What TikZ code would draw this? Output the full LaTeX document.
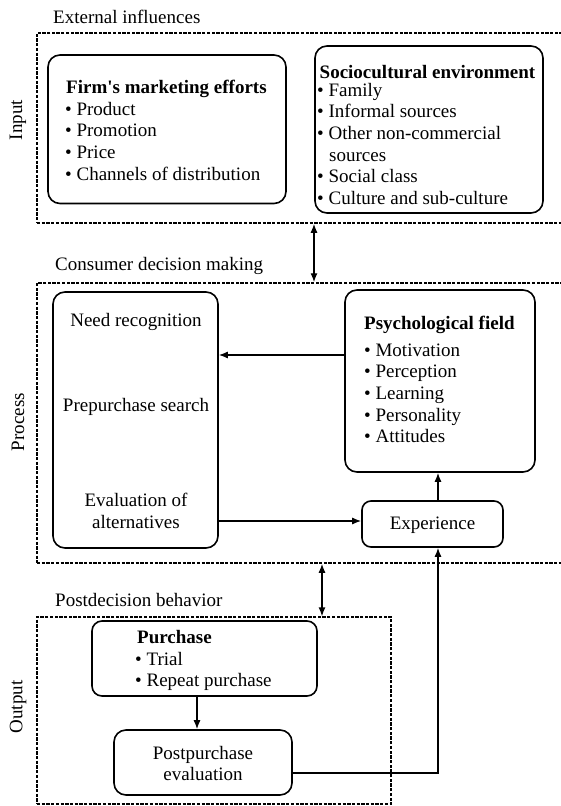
\documentclass[tikz,border=0pt]{standalone}
\usepackage{fontspec}
\setmainfont{Liberation Serif}[Ligatures=TeXOff]
\usetikzlibrary{arrows.meta}
\begin{document}
\begin{tikzpicture}[x=1pt,y=-1pt,
  txt/.style={font=\fontsize{19}{21.7}\selectfont, inner sep=0pt},
  btxt/.style={font=\fontsize{19}{21.7}\selectfont\bfseries, inner sep=0pt},
  box/.style={draw, line width=1.6pt, rounded corners=12pt, inner sep=0pt},
  grp/.style={draw, line width=1.5pt, dash pattern=on 3.3pt off 1.4pt, inner sep=0pt},
  arr/.style={line width=1.3pt, -{Latex[length=9pt,width=7pt]}},
  darr/.style={line width=1.3pt, {Latex[length=9pt,width=7pt]}-{Latex[length=9pt,width=7pt]}}]
\useasboundingbox (0,0) rectangle (560,806);

% ---------- group frames ----------
\node[grp, minimum width=525pt, minimum height=190pt] (inputgrp) at (299.5,128) {};
\node[grp, minimum width=525pt, minimum height=280pt] (processgrp) at (299.5,423) {};
\node[grp, line width=1.3pt, minimum width=354pt, minimum height=187pt] (outputgrp) at (214,710.5) {};

% ---------- group labels ----------
\node[txt, anchor=base west] (extlab) at (53,23) {External influences};
\node[txt, anchor=base west] (cdmlab) at (55,270) {Consumer decision making};
\node[txt, anchor=base west] (pdblab) at (55,606) {Postdecision behavior};
\node[txt, rotate=90] (inlab) at (18,120) {Input};
\node[txt, rotate=90] (proclab) at (18,422) {Process};
\node[txt, rotate=90] (outlab) at (18,707) {Output};

% ---------- input boxes ----------
\node[box, minimum width=238pt, minimum height=148.5pt] (firm) at (167,129.25) {};
\node[btxt, anchor=base west] (firmt) at (66,93.5) {Firm's marketing efforts};
\foreach \t [count=\i] in {Product, Promotion, Price, Channels of distribution}
  \node[txt, anchor=base west] (firmi\i) at (65,{93.5+\i*21.7}) {• \t};

\node[box, minimum width=228pt, minimum height=167pt] (socio) at (429,129.5) {};
\node[btxt, anchor=base west] (sociot) at (319.5,78) {Sociocultural environment};
\node[txt, anchor=base west] (socioi1) at (317,96) {• Family};
\node[txt, anchor=base west] (socioi2) at (317,117.7) {• Informal sources};
\node[txt, anchor=base west] (socioi3) at (317,139.4) {• Other non-commercial};
\node[txt, anchor=base west] (socioi3b) at (329,161.1) {sources};
\node[txt, anchor=base west] (socioi4) at (317,182.8) {• Social class};
\node[txt, anchor=base west] (socioi5) at (317,204.5) {• Culture and sub-culture};

% ---------- process boxes ----------
\node[box, minimum width=165pt, minimum height=256pt] (stage) at (135.5,420) {};
\node[txt, anchor=base] (need) at (136,326) {Need recognition};
\node[txt, anchor=base] (search) at (136,411) {Prepurchase search};
\node[txt, anchor=base] (eval1) at (136,506) {Evaluation of};
\node[txt, anchor=base] (eval2) at (136,528) {alternatives};

\node[box, minimum width=190pt, minimum height=182pt] (psych) at (440,381) {};
\node[btxt, anchor=base west] (psycht) at (364,329) {Psychological field};
\foreach \t [count=\i] in {Motivation, Perception, Learning, Personality, Attitudes}
  \node[txt, anchor=base west] (psychi\i) at (364,{334.3+\i*21.7}) {• \t};

\node[box, rounded corners=9pt, minimum width=141pt, minimum height=46pt] (exper) at (432.5,524) {};
\node[txt, anchor=base] (expert) at (432.5,529) {Experience};

% ---------- output boxes ----------
\node[box, rounded corners=10pt, minimum width=225pt, minimum height=75pt] (purchase) at (204.5,658.5) {};
\node[btxt, anchor=base west] (purcht) at (137,643) {Purchase};
\node[txt, anchor=base west] (purchi1) at (135,665) {• Trial};
\node[txt, anchor=base west] (purchi2) at (135,686.5) {• Repeat purchase};

\node[box, minimum width=178pt, minimum height=65pt] (postp) at (203,762.5) {};
\node[txt, anchor=base] (postp1) at (203,759) {Postpurchase};
\node[txt, anchor=base] (postp2) at (203,780) {evaluation};

% ---------- connectors ----------
\coordinate (c1) at (314,0);
\coordinate (c2) at (0,355);
\coordinate (c3) at (0,521);
\coordinate (c4) at (438,0);
\coordinate (c5) at (322,0);
\coordinate (c6) at (197,0);
\coordinate (c7) at (0,773);

\draw[darr] (inputgrp.south -| c1) -- (processgrp.north -| c1);
\draw[arr] (psych.west |- c2) -- (stage.east |- c2);
\draw[arr] (stage.east |- c3) -- (exper.west |- c3);
\draw[arr] (exper.north -| c4) -- (psych.south -| c4);
\draw[darr] (processgrp.south -| c5) -- (outputgrp.north -| c5);
\draw[arr] (purchase.south -| c6) -- (postp.north -| c6);
\draw[arr] (postp.east |- c7) -| (exper.south -| c4);
\end{tikzpicture}
\end{document}
